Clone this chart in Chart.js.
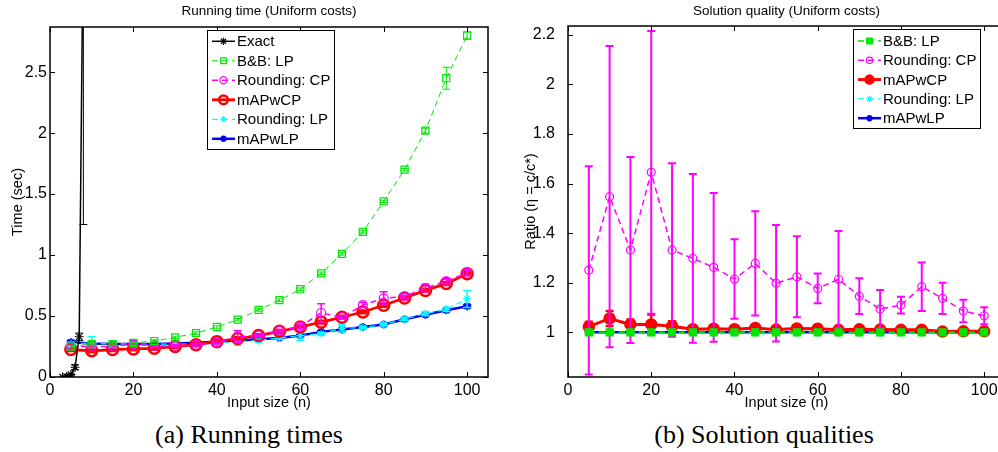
<!DOCTYPE html>
<html>
<head>
<meta charset="utf-8">
<title>Running time / Solution quality</title>
<script src="https://cdn.jsdelivr.net/npm/chart.js@4.4.1/dist/chart.umd.min.js"></script>
<style>
  body { margin: 0; width: 998px; height: 452px; overflow: hidden; background: #fff; position: relative; }
  .plot { position: absolute; top: 0; }
  #timeBox { left: 0; width: 500px; height: 420px; }
  #qualBox { left: 500px; width: 520px; height: 420px; }
  .caption {
    position: absolute; top: 420px; line-height: 30px;
    font-family: "Liberation Serif", "Times New Roman", serif; font-size: 26px;
    white-space: nowrap; transform: translateX(-50%); color: #000;
  }
</style>
</head>
<body>
<div class="plot" id="timeBox"><canvas id="timeChart" width="500" height="420"></canvas></div>
<div class="plot" id="qualBox"><canvas id="qualChart" width="520" height="420"></canvas></div>
<div class="caption" style="left:249px">(a) Running times</div>
<div class="caption" style="left:764px">(b) Solution qualities</div>

<script>
// input sizes
const nVals = [5, 10, 15, 20, 25, 30, 35, 40, 45, 50, 55, 60, 65, 70, 75, 80, 85, 90, 95, 100];
const exactN = [3, 4, 5, 6, 7, 8];

// tick labels
const xTicks = [0, 20, 40, 60, 80, 100];
const timeTicks = [0, 0.5, 1, 1.5, 2, 2.5];
const ratioTicks = [1, 1.2, 1.4, 1.6, 1.8, 2, 2.2];

// running time (sec) + error bar half-widths
const exactTime = [0.0, 0.003, 0.02, 0.08, 0.33, 3.8];
const exactErr  = [0, 0, 0.005, 0.02, 0.03, 2.55];
const bbTime  = [0.25, 0.27, 0.27, 0.28, 0.295, 0.325, 0.36, 0.41, 0.47, 0.55, 0.63, 0.72, 0.85, 1.01, 1.19, 1.44, 1.70, 2.02, 2.45, 2.80];
const bbErr   = [0.01, 0.01, 0.01, 0.01, 0.01, 0.01, 0.01, 0.01, 0.01, 0.01, 0.01, 0.01, 0.01, 0.01, 0.01, 0.01, 0.01, 0.02, 0.09, 0.03];
const rcpTime = [0.25, 0.25, 0.25, 0.27, 0.255, 0.255, 0.265, 0.28, 0.33, 0.34, 0.38, 0.415, 0.525, 0.49, 0.59, 0.645, 0.66, 0.73, 0.785, 0.855];
const rcpErr  = [0.01, 0.01, 0.01, 0.03, 0.01, 0.01, 0.01, 0.01, 0.05, 0.01, 0.01, 0.02, 0.075, 0.01, 0.02, 0.055, 0.01, 0.03, 0.02, 0.02];
const mcpTime = [0.225, 0.215, 0.225, 0.23, 0.235, 0.25, 0.265, 0.29, 0.315, 0.34, 0.375, 0.41, 0.45, 0.49, 0.533, 0.588, 0.648, 0.71, 0.766, 0.847];
const mcpErr  = [0.01, 0.01, 0.01, 0.01, 0.01, 0.01, 0.01, 0.01, 0.01, 0.01, 0.01, 0.01, 0.01, 0.01, 0.01, 0.01, 0.01, 0.01, 0.01, 0.01];
const rlpTime = [0.27, 0.28, 0.27, 0.27, 0.27, 0.27, 0.27, 0.28, 0.29, 0.30, 0.32, 0.34, 0.355, 0.40, 0.405, 0.43, 0.475, 0.52, 0.555, 0.64];
const rlpErr  = [0.01, 0.05, 0.01, 0.01, 0.01, 0.01, 0.01, 0.01, 0.03, 0.01, 0.01, 0.04, 0.01, 0.03, 0.01, 0.01, 0.01, 0.015, 0.015, 0.07];
const mlpTime = [0.285, 0.275, 0.27, 0.27, 0.27, 0.275, 0.28, 0.29, 0.30, 0.31, 0.32, 0.34, 0.37, 0.39, 0.41, 0.43, 0.473, 0.51, 0.547, 0.58];
const mlpErr  = [0.01, 0.005, 0.005, 0.005, 0.005, 0.005, 0.005, 0.005, 0.005, 0.005, 0.005, 0.005, 0.005, 0.005, 0.005, 0.005, 0.005, 0.005, 0.005, 0.01];

// solution quality ratio + error bar half-widths
const bbRatio  = [1, 1, 1, 1, 1, 1, 1, 1, 1, 1, 1, 1, 1, 1, 1, 1, 1, 1, 1, 1];
const rcpRatio = [1.25, 1.547, 1.332, 1.645, 1.332, 1.298, 1.262, 1.215, 1.278, 1.198, 1.224, 1.177, 1.214, 1.146, 1.094, 1.11, 1.184, 1.137, 1.086, 1.067];
const rcpRErr  = [0.42, 0.607, 0.375, 0.57, 0.35, 0.34, 0.30, 0.16, 0.21, 0.235, 0.163, 0.06, 0.195, 0.072, 0.077, 0.034, 0.098, 0.063, 0.045, 0.034];
const mcpRatio = [1.023, 1.056, 1.032, 1.032, 1.025, 1.013, 1.015, 1.013, 1.018, 1.011, 1.016, 1.015, 1.01, 1.012, 1.011, 1.01, 1.01, 1.003, 1.004, 1.004];
const mcpRErr  = [0.02, 0.03, 0.02, 0.04, 0.02, 0.005, 0.005, 0.005, 0.005, 0.005, 0.005, 0.005, 0.005, 0.005, 0.005, 0.005, 0.005, 0.003, 0.003, 0.003];
const rlpRatio = [1, 1, 1, 1, 1, 1, 1, 1, 1, 1, 1, 1, 1, 1, 1, 1, 1, 1, 1, 1];
const mlpRatio = [1, 1, 1, 1, 1, 1, 1, 1, 1, 1, 1, 1, 1, 1, 1, 1, 1, 1, 1, 1];

const FONT = '"Liberation Sans", Arial, Helvetica, sans-serif';
Chart.defaults.font.family = FONT;
Chart.defaults.color = '#000';

const pts = (xs, ys) => xs.map((x, i) => ({ x: x, y: ys[i] }));

// matlab style error bars, drawn right after each dataset
const errorBars = {
  id: 'errorBars',
  afterDatasetDraw(chart, args) {
    const d = chart.data.datasets[args.index];
    if (!d.err) return;
    const { ctx, chartArea: a } = chart;
    const y = chart.scales.y;
    ctx.save();
    ctx.beginPath();
    ctx.rect(a.left, a.top, a.width, a.height);
    ctx.clip();
    ctx.strokeStyle = d.errColor || d.borderColor;
    ctx.lineWidth = d.errWidth || d.borderWidth;
    ctx.setLineDash([]);
    args.meta.data.forEach((pt, i) => {
      const e = d.err[i];
      if (!e) return;
      const v = d.data[i].y;
      const hi = y.getPixelForValue(v + e);
      const lo = y.getPixelForValue(v - e);
      const c = 4;
      ctx.beginPath();
      ctx.moveTo(pt.x, lo); ctx.lineTo(pt.x, hi);
      ctx.moveTo(pt.x - c, hi); ctx.lineTo(pt.x + c, hi);
      ctx.moveTo(pt.x - c, lo); ctx.lineTo(pt.x + c, lo);
      ctx.stroke();
    });
    ctx.restore();
  }
};

// box with inward ticks on all four sides
const boxAxes = {
  id: 'boxAxes',
  afterDatasetsDraw(chart) {
    const { ctx, chartArea: a } = chart;
    const { x, y } = chart.scales;
    ctx.save();
    ctx.setLineDash([]);
    ctx.strokeStyle = '#000';
    ctx.lineWidth = 1;
    ctx.beginPath();
    x.ticks.forEach(t => {
      const px = Math.round(x.getPixelForValue(t.value)) + 0.5;
      ctx.moveTo(px, a.bottom); ctx.lineTo(px, a.bottom - 5);
      ctx.moveTo(px, a.top); ctx.lineTo(px, a.top + 5);
    });
    y.ticks.forEach(t => {
      const py = Math.round(y.getPixelForValue(t.value)) + 0.5;
      ctx.moveTo(a.left, py); ctx.lineTo(a.left + 5, py);
      ctx.moveTo(a.right, py); ctx.lineTo(a.right - 5, py);
    });
    ctx.stroke();
    ctx.lineWidth = 1.5;
    ctx.strokeRect(a.left, a.top, a.width, a.height);
    ctx.restore();
  }
};

// legend box inside the axes: line sample + marker + label
const boxLegend = {
  id: 'boxLegend',
  afterDatasetsDraw(chart, args, o) {
    const ctx = chart.ctx;
    ctx.save();
    ctx.fillStyle = '#fff';
    ctx.fillRect(o.left, o.top, o.width, o.height);
    ctx.strokeStyle = '#000';
    ctx.lineWidth = 1;
    ctx.setLineDash([]);
    ctx.strokeRect(o.left + 0.5, o.top + 0.5, o.width, o.height);
    ctx.font = '15px ' + FONT;
    ctx.textBaseline = 'middle';
    chart.data.datasets.forEach((d, i) => {
      const y = o.top + o.firstRow + i * o.rowGap;
      const x0 = o.left + 5, x1 = o.left + 28;
      ctx.strokeStyle = d.borderColor;
      ctx.lineWidth = d.borderWidth;
      ctx.setLineDash(d.borderDash || []);
      ctx.beginPath();
      ctx.moveTo(x0, y); ctx.lineTo(x1, y);
      ctx.stroke();
      ctx.setLineDash([]);
      ctx.fillStyle = d.pointBackgroundColor;
      ctx.lineWidth = d.pointBorderWidth;
      Chart.helpers.drawPoint(ctx, {
        pointStyle: d.pointStyle, radius: d.pointRadius * 0.8,
        borderWidth: d.pointBorderWidth, rotation: 0
      }, (x0 + x1) / 2, y);
      ctx.fillStyle = '#000';
      ctx.fillText(d.label, o.left + 30, y + 1);
    });
    ctx.restore();
  }
};

function line(label, color, data, err, extra) {
  return Object.assign({
    label: label,
    data: data,
    err: err,
    borderColor: color,
    backgroundColor: color,
    pointBackgroundColor: 'rgba(0,0,0,0)',
    pointBorderColor: color,
    borderWidth: 1,
    pointBorderWidth: 1.2,
    pointRadius: 4,
    tension: 0,
    fill: false
  }, extra);
}

function scales(yMin, yMax, yTicks, yTitle, yWidth, yPad, yTitlePad) {
  return {
    x: {
      type: 'linear', min: 0, max: 105,
      afterBuildTicks: s => { s.ticks = xTicks.map(v => ({ value: v })); },
      afterFit: s => { s.height = 43; },
      grid: { display: false, drawTicks: false },
      border: { display: false },
      ticks: { font: { size: 16 }, padding: 4, maxRotation: 0, autoSkip: false, callback: v => String(v) },
      title: { display: true, text: 'Input size (n)', font: { size: 14.5 }, padding: { top: 0, bottom: 8 } }
    },
    y: {
      type: 'linear', min: yMin, max: yMax,
      afterBuildTicks: s => { s.ticks = yTicks.map(v => ({ value: v })); },
      afterFit: s => { s.width = yWidth; },
      grid: { display: false, drawTicks: false },
      border: { display: false },
      ticks: { font: { size: 16 }, padding: yPad, autoSkip: false, callback: v => String(v) },
      title: { display: true, text: yTitle, font: { size: 14.5 }, padding: { top: yTitlePad, bottom: 0 } }
    }
  };
}

const dash = [6, 4];

// (a) running times
new Chart(document.getElementById('timeChart'), {
  type: 'line',
  data: {
    datasets: [
      line('Exact', '#000000', pts(exactN, exactTime), exactErr, { borderWidth: 1.5, pointStyle: 'star', pointRadius: 4.5, errWidth: 1 }),
      line('B&B: LP', '#00e600', pts(nVals, bbTime), bbErr, { borderDash: dash, pointStyle: 'rect', pointRadius: 5 }),
      line('Rounding: CP', '#ff00ff', pts(nVals, rcpTime), rcpErr, { borderDash: dash, borderWidth: 1.5, pointStyle: 'circle', pointRadius: 4.5 }),
      line('mAPwCP', '#ff0000', pts(nVals, mcpTime), mcpErr, { borderWidth: 2.8, pointStyle: 'circle', pointRadius: 5.5, pointBorderWidth: 2.5 }),
      line('Rounding: LP', '#00ffff', pts(nVals, rlpTime), rlpErr, { borderDash: dash, borderWidth: 1.2, pointStyle: 'star', pointRadius: 4, errWidth: 1.5 }),
      line('mAPwLP', '#0000ff', pts(nVals, mlpTime), mlpErr, { borderWidth: 2.5, pointStyle: 'star', pointRadius: 4, pointBorderWidth: 2 })
    ]
  },
  options: {
    responsive: false,
    animation: false,
    layout: { padding: { left: 0, right: 12, top: 0, bottom: 0 } },
    scales: scales(0, 2.87, timeTicks, 'Time (sec)', 50, 3, 9),
    plugins: {
      legend: { display: false },
      tooltip: { enabled: false },
      title: {
        display: true, text: 'Running time (Uniform costs)', fullSize: false,
        font: { size: 13.5, weight: 'normal' }, padding: { top: 3, bottom: 7.8 }
      },
      boxLegend: { left: 207, top: 30, width: 127, height: 119, firstRow: 11.3, rowGap: 19.5 }
    }
  },
  plugins: [errorBars, boxAxes, boxLegend]
});

// (b) solution qualities
new Chart(document.getElementById('qualChart'), {
  type: 'line',
  data: {
    datasets: [
      line('B&B: LP', '#00e600', pts(nVals, bbRatio), null, { borderDash: dash, borderWidth: 1.5, pointStyle: 'rect', pointRadius: 5, pointBackgroundColor: '#00e600' }),
      line('Rounding: CP', '#ff00ff', pts(nVals, rcpRatio), rcpRErr, { borderDash: dash, borderWidth: 1.5, pointStyle: 'circle', pointRadius: 4, errWidth: 2 }),
      line('mAPwCP', '#ff0000', pts(nVals, mcpRatio), mcpRErr, { borderWidth: 3, pointStyle: 'circle', pointRadius: 5, pointBorderWidth: 2.5, pointBackgroundColor: '#ff0000', errWidth: 2.5 }),
      line('Rounding: LP', '#00ffff', pts(nVals, rlpRatio), null, { borderDash: dash, borderWidth: 1.2, pointStyle: 'star', pointRadius: 4 }),
      line('mAPwLP', '#0000ff', pts(nVals, mlpRatio), null, { borderWidth: 2.5, pointStyle: 'star', pointRadius: 4, pointBorderWidth: 2 })
    ]
  },
  options: {
    responsive: false,
    animation: false,
    layout: { padding: { left: 0, right: 15, top: 0, bottom: 0 } },
    scales: scales(0.82, 2.235, ratioTicks, 'Ratio (η = c/c*)', 68, 13, 22),
    plugins: {
      legend: { display: false },
      tooltip: { enabled: false },
      title: {
        display: true, text: 'Solution quality (Uniform costs)', fullSize: false,
        font: { size: 13.5, weight: 'normal' }, padding: { top: 3, bottom: 6.8 }
      },
      boxLegend: { left: 353, top: 29, width: 127, height: 99, firstRow: 12, rowGap: 19.3 }
    }
  },
  plugins: [errorBars, boxAxes, boxLegend]
});
</script>
</body>
</html>
